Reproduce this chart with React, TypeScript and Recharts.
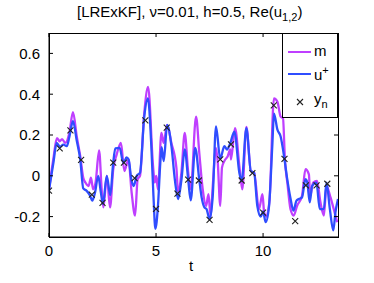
import React from "react";
import { ComposedChart, Line, Scatter, XAxis, YAxis } from "recharts";

// m (filter mean)
const mTimes = [
  0, 0.2, 0.37, 0.5, 0.61, 0.76, 0.95, 1.12, 1.3, 1.46, 1.6, 1.7, 1.85, 1.96, 2.06, 2.18, 2.34, 2.46,
  2.54, 2.7, 2.85, 3.0, 3.16, 3.36, 3.52, 3.71, 3.86, 4.02, 4.14, 4.25, 4.45, 4.63, 4.86, 4.94, 5.01,
  5.09, 5.25, 5.36, 5.51, 5.72, 5.95, 6.03, 6.19, 6.34, 6.5, 6.62, 6.87, 7.02, 7.18, 7.34, 7.45, 7.55,
  7.65, 7.8, 7.88, 8.0, 8.08, 8.19, 8.35, 8.47, 8.5, 8.69, 8.9, 9.03, 9.22, 9.43, 9.58, 9.81, 9.97,
  10.05, 10.15, 10.3, 10.51, 10.67, 10.82, 10.93, 11.02, 11.14, 11.28, 11.43, 11.59, 11.82, 11.98,
  12.14, 12.2, 12.34, 12.52, 12.68, 12.84, 12.96, 13.15, 13.3, 13.46,
];
const mValues = [
  -0.066, 0.08, 0.185, 0.169, 0.18, 0.161, 0.21, 0.312, 0.19, 0.096, -0.01, -0.033, -0.05, -0.009,
  -0.066, -0.03, 0.125, -0.066, -0.155, 0, -0.155, 0.032, 0.104, 0.161, 0.023, 0.08, -0.082, -0.195,
  -0.017, 0, 0.307, 0.436, 0.048, -0.033, 0, -0.066, 0.21, 0.161, 0.25, 0.16, 0.04, -0.08, 0.02, 0.21,
  0.02, -0.066, 0.29, 0.113, -0.066, -0.147, -0.09, -0.2, -0.05, 0.137, 0.072, -0.147, 0.04, 0.072,
  0.096, 0.129, 0.08, 0.234, 0.04, -0.066, 0.24, 0.023, 0.016, -0.163, -0.09, -0.179, -0.2, -0.12,
  0.38, 0.363, 0.29, 0.282, 0.08, -0.04, -0.163, -0.195, -0.147, -0.098, 0.032, 0.007, -0.1, -0.033,
  -0.025, -0.13, -0.195, -0.05, -0.106, -0.163, -0.227,
];

// u+ (truth)
const uTimes = [
  0, 0.2, 0.36, 0.51, 0.67, 0.83, 0.95, 1.12, 1.3, 1.46, 1.6, 1.76, 1.92, 2.02, 2.15, 2.3, 2.42, 2.52,
  2.7, 2.86, 3.0, 3.1, 3.3, 3.45, 3.5, 3.62, 3.72, 3.85, 3.95, 4.1, 4.25, 4.45, 4.62, 4.78, 4.88, 4.97,
  5.09, 5.2, 5.26, 5.36, 5.52, 5.72, 5.88, 6.03, 6.19, 6.34, 6.5, 6.62, 6.83, 7.02, 7.13, 7.26, 7.36,
  7.5, 7.65, 7.8, 8.0, 8.19, 8.32, 8.47, 8.66, 8.89, 9.0, 9.22, 9.43, 9.58, 9.73, 9.89, 10.0, 10.12,
  10.28, 10.43, 10.51, 10.67, 10.82, 10.98, 11.12, 11.28, 11.42, 11.56, 11.67, 11.82, 11.98, 12.06,
  12.18, 12.29, 12.49, 12.65, 12.84, 12.96, 13.12, 13.28, 13.38, 13.5,
];
const uValues = [
  -0.07, 0.06, 0.161, 0.142, 0.153, 0.145, 0.19, 0.268, 0.17, 0.08, -0.062, -0.074, -0.098, -0.122,
  -0.082, 0, -0.08, -0.138, 0, -0.095, 0.065, 0.135, 0.137, 0.07, 0.065, 0.09, 0.08, -0.02, -0.05, 0,
  0.015, 0.29, 0.38, 0.145, -0.1, -0.26, -0.147, 0.064, 0.14, 0.072, 0.25, 0.145, -0.02, -0.114,
  -0.017, 0.129, -0.017, -0.12, 0.137, -0.02, -0.106, -0.155, -0.163, -0.213, -0.098, 0.242, 0.083,
  0.145, 0.129, 0.161, 0.217, 0.016, -0.025, 0.234, 0.023, 0.016, -0.147, -0.2, -0.175, -0.227,
  -0.147, 0.145, 0.305, 0.226, 0.193, 0.096, -0.01, -0.11, -0.171, -0.122, -0.114, -0.106, -0.017,
  -0.03, -0.13, -0.05, -0.033, -0.163, -0.163, -0.033, -0.163, -0.268, -0.179, -0.114,
];

// observations y_n every h = 0.5
const obsTimes = [
  0, 0.5, 1, 1.5, 2, 2.5, 3, 3.5, 4, 4.5, 5, 5.5, 6, 6.5, 7, 7.5, 8, 8.5, 9, 9.5, 10, 10.5, 11, 11.5,
  12, 12.5, 13,
];
const obsValues = [
  -0.073, 0.134, 0.223, 0.078, -0.092, -0.133, 0.065, 0.065, -0.011, 0.272, -0.162, 0.236, -0.087,
  -0.019, -0.023, -0.216, 0.081, 0.154, -0.023, 0.013, -0.181, 0.345, 0.083, -0.222, -0.047, -0.047,
  -0.039,
];

const xTicks = [0, 5, 10];
const yTicks = [-0.2, 0, 0.2, 0.4, 0.6];

const mData = mTimes.map((t, i) => ({ t, v: mValues[i] }));
const uData = uTimes.map((t, i) => ({ t, v: uValues[i] }));
const obsData = obsTimes.map((t, i) => ({ t, v: obsValues[i] }));

const PURPLE = "#bf3fff";
const BLUE = "#2f4dff";

// plot box (MATLAB style frame)
const LEFT = 49;
const TOP = 33;
const RIGHT = 338;
const BOTTOM = 237;

const Cross = (props: any) => {
  const { cx, cy } = props;
  const s = 3;
  return (
    <path
      d={`M${cx - s},${cy - s}L${cx + s},${cy + s}M${cx - s},${cy + s}L${cx + s},${cy - s}`}
      stroke="#222"
      strokeWidth={1.1}
      fill="none"
    />
  );
};

// bottom tick label + mirrored tick on the top edge
const XTick = (props: any) => {
  const { x, y, payload } = props;
  return (
    <g>
      <line x1={x} x2={x} y1={TOP} y2={TOP + 4} stroke="#000" />
      <text x={x} y={y} dy="0.71em" textAnchor="middle" fill="#000" fontSize={15}>
        {payload.value}
      </text>
    </g>
  );
};

// left tick label + mirrored tick on the right edge
const YTick = (props: any) => {
  const { x, y, payload } = props;
  return (
    <g>
      <line x1={RIGHT - 4} x2={RIGHT} y1={y} y2={y} stroke="#000" />
      <text x={x} y={y} dy="0.355em" textAnchor="end" fill="#000" fontSize={15}>
        {payload.value}
      </text>
    </g>
  );
};

const font = "'Liberation Sans', Arial, Helvetica, sans-serif";

export default function App() {
  return (
    <div style={{ position: "relative", width: 374, height: 283, fontFamily: font, background: "#fff" }}>
      <style>{"body{margin:0}"}</style>
      <ComposedChart
        width={374}
        height={283}
        margin={{ top: TOP, right: 374 - RIGHT, bottom: 0, left: 0 }}
      >
        <XAxis
          dataKey="t"
          type="number"
          domain={[0, 13.5]}
          ticks={xTicks}
          allowDataOverflow
          height={283 - BOTTOM}
          tickSize={-4}
          tickMargin={12}
          axisLine={{ stroke: "#000" }}
          tickLine={{ stroke: "#000" }}
          tick={<XTick />}
        />
        <YAxis
          type="number"
          domain={[-0.3, 0.7]}
          ticks={yTicks}
          allowDataOverflow
          width={LEFT}
          tickSize={-4}
          tickMargin={13}
          axisLine={{ stroke: "#000" }}
          tickLine={{ stroke: "#000" }}
          tick={<YTick />}
        />
        <Line
          data={mData}
          dataKey="v"
          type="monotone"
          stroke={PURPLE}
          strokeWidth={2.3}
          dot={false}
          isAnimationActive={false}
        />
        <Line
          data={uData}
          dataKey="v"
          type="monotone"
          stroke={BLUE}
          strokeWidth={2.3}
          dot={false}
          isAnimationActive={false}
        />
        <Scatter data={obsData} dataKey="v" shape={Cross} isAnimationActive={false} />
      </ComposedChart>

      {/* box frame */}
      <div
        style={{
          position: "absolute",
          left: LEFT,
          top: TOP,
          width: RIGHT - LEFT + 1,
          height: BOTTOM - TOP + 1,
          boxSizing: "border-box",
          border: "1px solid #000",
          pointerEvents: "none",
        }}
      />

      {/* title */}
      <div
        style={{ position: "absolute", left: 77, top: 3, fontSize: 15, whiteSpace: "nowrap", color: "#000" }}
      >
        [LRExKF], ν=0.01, h=0.5, Re(u<sub style={{ fontSize: 11 }}>1,2</sub>)
      </div>

      {/* x label */}
      <div style={{ position: "absolute", left: 189, top: 257, fontSize: 15, color: "#000" }}>t</div>

      {/* legend */}
      <div
        style={{
          position: "absolute",
          left: 282,
          top: TOP,
          width: 56,
          height: 85,
          boxSizing: "border-box",
          border: "1px solid #000",
          background: "#fff",
          fontSize: 15,
          color: "#000",
        }}
      >
        <svg width={30} height={84} style={{ position: "absolute", left: 0, top: 0 }}>
          <line x1={5} x2={28} y1={18} y2={18} stroke={PURPLE} strokeWidth={2} />
          <line x1={5} x2={28} y1={40} y2={40} stroke={BLUE} strokeWidth={2} />
          <Cross cx={17} cy={68} />
        </svg>
        <div style={{ position: "absolute", left: 31, top: 8 }}>m</div>
        <div style={{ position: "absolute", left: 31, top: 30 }}>
          u<sup style={{ fontSize: 11 }}>+</sup>
        </div>
        <div style={{ position: "absolute", left: 31, top: 56 }}>
          y<sub style={{ fontSize: 11 }}>n</sub>
        </div>
      </div>
    </div>
  );
}
